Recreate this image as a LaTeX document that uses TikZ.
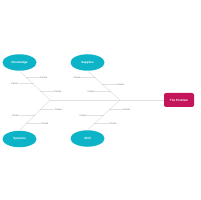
\documentclass[tikz,border=0pt]{standalone}
\usepackage{fontspec}
\setmainfont{Liberation Sans}
\usetikzlibrary{shapes.geometric}
\definecolor{cy}{HTML}{0DB4C7}
\definecolor{cr}{HTML}{C4145A}
\definecolor{ln}{HTML}{E0E0E0}
\definecolor{tx}{HTML}{707070}
\begin{document}
\begin{tikzpicture}[x=1pt,y=-1pt,
  cat/.style={ellipse, fill=cy, minimum width=34pt, minimum height=16.5pt, inner sep=0pt, text=white, font=\fontsize{3}{3.6}\selectfont\bfseries},
  prob/.style={rectangle, rounded corners=2pt, fill=cr, minimum width=30pt, minimum height=14pt, inner sep=0pt, text=white, font=\fontsize{3}{3.6}\selectfont\bfseries},
  cause/.style={inner sep=0.4pt, text=tx, font=\fontsize{2.4}{2.8}\selectfont},
  bone/.style={draw=ln, line width=0.5pt},
  dot/.style={fill=tx!50},
]
\useasboundingbox (0,0) rectangle (200,200);
\node[cat] (k) at (19.5,62.5) {Knowledge};
\node[cat] (s) at (87.5,62.5) {Supplies};
\node[cat] (y) at (19.5,139) {Systems};
\node[cat] (sk) at (87.5,138.5) {Skill};
\node[prob] (p) at (179,100) {The Problem};
\coordinate (h) at (50,100);
\coordinate (h2) at (120,100);
\draw[bone] (h) -- (p.west);
\draw[bone] (k.south) -- coordinate[pos=0.233] (k1) coordinate[pos=0.433] (k2) coordinate[pos=0.7] (k3) (h);
\draw[bone] (s.south) -- coordinate[pos=0.233] (s1) coordinate[pos=0.467] (s2) coordinate[pos=0.7] (s3) (h2);
\draw[bone] (y.north) -- coordinate[pos=0.238] (y1) coordinate[pos=0.492] (y2) coordinate[pos=0.683] (y3) (h);
\draw[bone] (sk.north) -- coordinate[pos=0.226] (q1) coordinate[pos=0.484] (q2) coordinate[pos=0.677] (q3) (h2);
% Knowledge causes
\node[cause, anchor=west] (kc1) at ([xshift=13pt]k1) {Cause};
\node[cause, anchor=east] (kc2) at ([xshift=-14pt]k2) {Cause};
\node[cause, anchor=west] (kc3) at ([xshift=13pt]k3) {Cause};
\draw[bone] (k1) -- (kc1.west); \draw[bone] (k2) -- (kc2.east); \draw[bone] (k3) -- (kc3.west);
% Supplies causes
\node[cause, anchor=east] (sc1) at ([xshift=-14pt]s1) {Cause};
\node[cause, anchor=west] (sc2) at ([xshift=14pt]s2) {Cause};
\node[cause, anchor=east] (sc3) at ([xshift=-15pt]s3) {Cause};
\draw[bone] (s1) -- (sc1.east); \draw[bone] (s2) -- (sc2.west); \draw[bone] (s3) -- (sc3.east);
% Systems causes
\node[cause, anchor=west] (yc1) at ([xshift=14pt]y1) {Cause};
\node[cause, anchor=east] (yc2) at ([xshift=-15pt]y2) {Cause};
\node[cause, anchor=west] (yc3) at ([xshift=14pt]y3) {Cause};
\draw[bone] (y1) -- (yc1.west); \draw[bone] (y2) -- (yc2.east); \draw[bone] (y3) -- (yc3.west);
% Skill causes
\node[cause, anchor=west] (qc1) at ([xshift=14pt]q1) {Cause};
\node[cause, anchor=east] (qc2) at ([xshift=-16pt]q2) {Cause};
\node[cause, anchor=west] (qc3) at ([xshift=13pt]q3) {Cause};
\draw[bone] (q1) -- (qc1.west); \draw[bone] (q2) -- (qc2.east); \draw[bone] (q3) -- (qc3.west);
\foreach \c in {k1,k2,k3,s1,s2,s3,y1,y2,y3,q1,q2,q3} \fill[dot] (\c) circle (0.4pt);
\end{tikzpicture}
\end{document}
